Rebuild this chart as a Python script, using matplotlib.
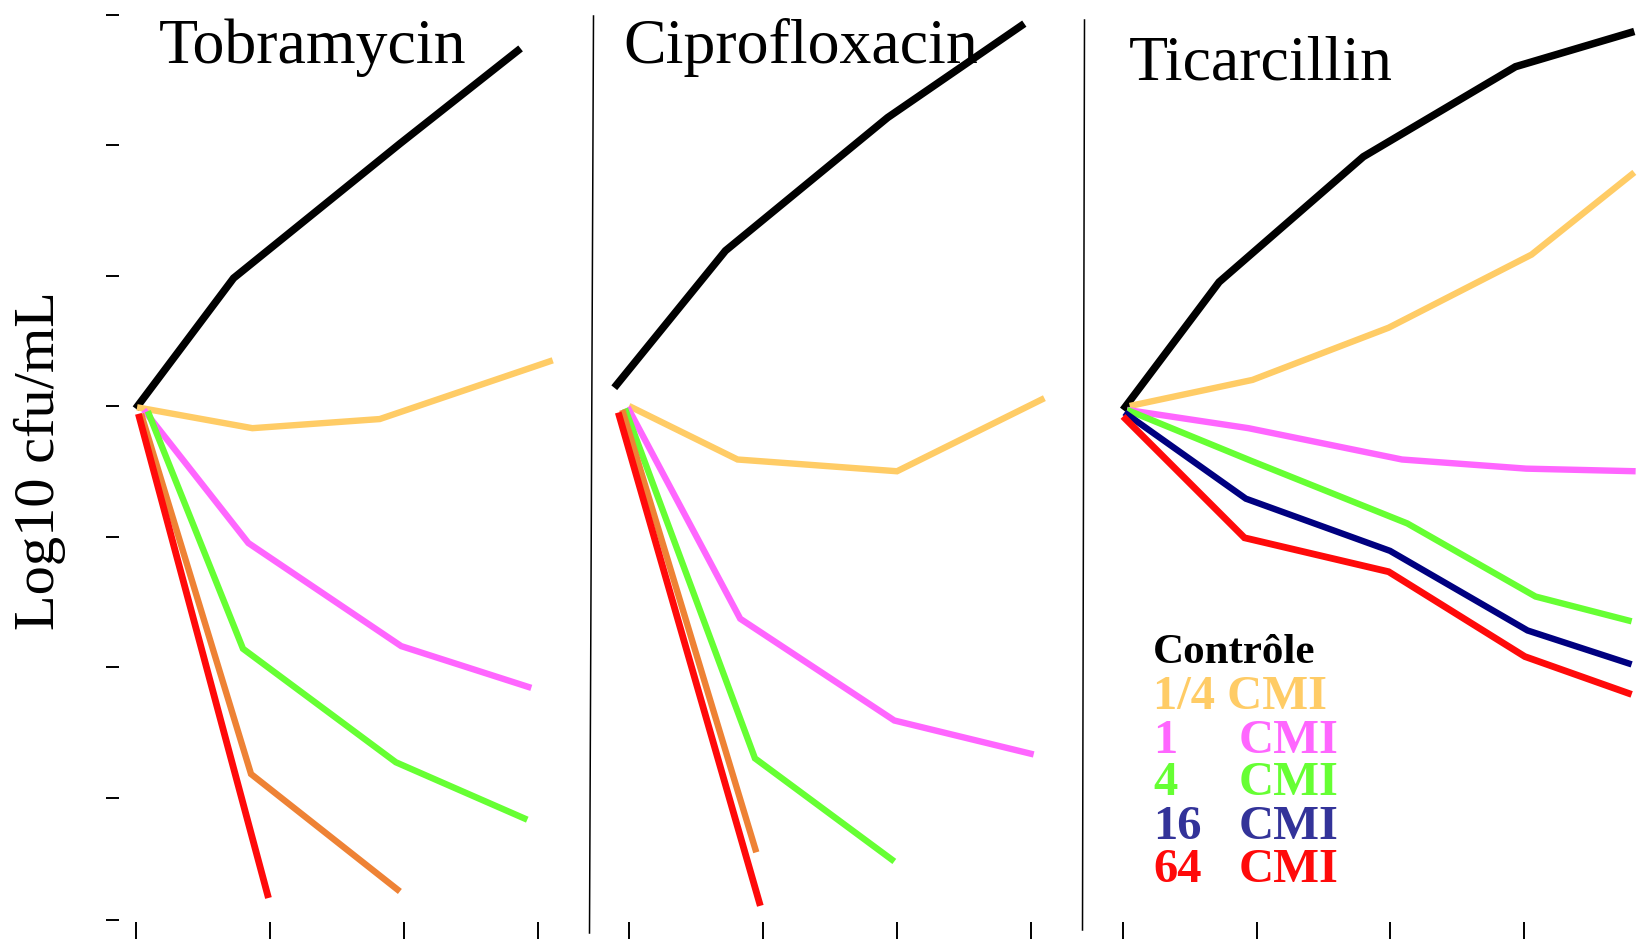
import matplotlib
matplotlib.use("Agg")
import matplotlib.pyplot as plt
from matplotlib.lines import Line2D

# ---------------- data (time index, log10 cfu/mL) ----------------
panels = ["Tobramycin", "Ciprofloxacin", "Ticarcillin"]
ylabel = "Log10 cfu/mL"
legend_left = ["Contrôle", "1/4 CMI", "1", "4", "16", "64"]
legend_right = ["", "", "CMI", "CMI", "CMI", "CMI"]
yticks = [2.06, 3, 4, 5, 6, 7, 8, 9]
xticks = [0, 1, 2, 3]

# Tobramycin
tob_ctrl_t = [0.00, 0.73, 1.97, 2.87]
tob_ctrl = [5.98, 6.98, 8.01, 8.74]
tob_q_t = [0.01, 0.87, 1.82, 3.11]
tob_q = [5.99, 5.83, 5.90, 6.35]
tob_1_t = [0.06, 0.84, 1.98, 2.95]
tob_1 = [5.97, 4.95, 4.16, 3.84]
tob_4_t = [0.09, 0.80, 1.94, 2.92]
tob_4 = [5.96, 4.14, 3.27, 2.83]
tob_16_t = [0.04, 0.86, 1.97]
tob_16 = [5.94, 3.18, 2.28]
tob_64_t = [0.02, 0.99]
tob_64 = [5.94, 2.23]

# Ciprofloxacin
cip_ctrl_t = [-0.11, 0.72, 1.93, 2.95]
cip_ctrl = [6.14, 7.19, 8.21, 8.93]
cip_q_t = [0.00, 0.81, 2.00, 3.10]
cip_q = [6.00, 5.59, 5.50, 6.06]
cip_1_t = [-0.01, 0.83, 1.98, 3.02]
cip_1 = [5.99, 4.37, 3.59, 3.33]
cip_4_t = [-0.03, 0.94, 1.98]
cip_4 = [5.98, 3.30, 2.51]
cip_16_t = [-0.05, 0.95]
cip_16 = [5.97, 2.58]
cip_64_t = [-0.08, 0.98]
cip_64 = [5.95, 2.17]

# Ticarcillin
tic_ctrl_t = [0.00, 0.72, 1.80, 2.94, 3.83]
tic_ctrl = [5.97, 6.95, 7.91, 8.60, 8.87]
tic_q_t = [0.05, 0.97, 1.99, 3.06, 3.83]
tic_q = [6.00, 6.20, 6.60, 7.16, 7.79]
tic_1_t = [0.03, 0.94, 2.09, 3.02, 3.84]
tic_1 = [5.97, 5.83, 5.59, 5.52, 5.50]
tic_4_t = [0.03, 0.96, 2.13, 3.09, 3.81]
tic_4 = [5.97, 5.58, 5.10, 4.54, 4.35]
tic_16_t = [0.01, 0.92, 2.00, 3.03, 3.81]
tic_16 = [5.95, 5.29, 4.89, 4.28, 4.02]
tic_64_t = [0.00, 0.91, 1.99, 3.01, 3.81]
tic_64 = [5.92, 4.99, 4.73, 4.08, 3.79]

# ---------------- styles ----------------
C_CTRL = "#000000"
C_Q = "#FFCC66"
C_1 = "#FF66FF"
C_4 = "#66FF33"
C_16_TOB = "#EE8235"
C_16_TIC = "#000080"
C_64 = "#FF0A0A"
LEG_COLORS = ["#000000", "#FFCC66", "#FF66FF", "#66FF33", "#333399", "#FF0A0A"]

SERIF = ["Liberation Serif", "DejaVu Serif"]
W, H = 1644, 942
DPI = 100

fig = plt.figure(figsize=(W / DPI, H / DPI), dpi=DPI)
fig.patch.set_facecolor("white")

AX_BOTTOM = 922          # pixel (from top) of the axes bottom
YLIM = (6 - (AX_BOTTOM - 406) / 130.5, 6 + 406 / 130.5)


def make_ax(left_px, right_px, tick0_px, step_px, left_ticks=False):
    ax = fig.add_axes([left_px / W, (H - AX_BOTTOM) / H,
                       (right_px - left_px) / W, AX_BOTTOM / H])
    ax.set_xlim((left_px - tick0_px) / step_px, (right_px - tick0_px) / step_px)
    ax.set_ylim(*YLIM)
    for s in ax.spines.values():
        s.set_visible(False)
    ax.patch.set_alpha(0)
    ax.set_xticks(xticks)
    ax.set_xticklabels([])
    ax.tick_params(axis="x", direction="out", length=12.5, width=1.4,
                   color="black", pad=0)
    if left_ticks:
        ax.set_yticks(yticks)
        ax.set_yticklabels([])
        ax.tick_params(axis="y", direction="out", length=9.5, width=1.4,
                       color="black")
    else:
        ax.set_yticks([])
    return ax


ax1 = make_ax(119, 592, 135.7, 134.1, left_ticks=True)
ax2 = make_ax(592, 1084, 629, 134.0)
ax3 = make_ax(1084, 1644, 1123, 133.5)

LW = 4.6
LW_BLACK = 5.4
LW_RED = 4.9


def draw(ax, t, y, color, lw=LW):
    ax.plot(t, y, color=color, lw=lw, clip_on=False,
            solid_capstyle="butt", solid_joinstyle="miter")


draw(ax1, tob_ctrl_t, tob_ctrl, C_CTRL, LW_BLACK)
draw(ax1, tob_q_t, tob_q, C_Q)
draw(ax1, tob_1_t, tob_1, C_1)
draw(ax1, tob_4_t, tob_4, C_4)
draw(ax1, tob_16_t, tob_16, C_16_TOB)
draw(ax1, tob_64_t, tob_64, C_64, LW_RED)

draw(ax2, cip_ctrl_t, cip_ctrl, C_CTRL, LW_BLACK)
draw(ax2, cip_q_t, cip_q, C_Q)
draw(ax2, cip_1_t, cip_1, C_1)
draw(ax2, cip_4_t, cip_4, C_4)
draw(ax2, cip_16_t, cip_16, C_16_TOB)
draw(ax2, cip_64_t, cip_64, C_64, LW_RED)

draw(ax3, tic_ctrl_t, tic_ctrl, C_CTRL, LW_BLACK)
draw(ax3, tic_q_t, tic_q, C_Q)
draw(ax3, tic_1_t, tic_1, C_1)
draw(ax3, tic_4_t, tic_4, C_4)
draw(ax3, tic_16_t, tic_16, C_16_TIC)
draw(ax3, tic_64_t, tic_64, C_64, LW_RED)

# separators between panels
fig.add_artist(Line2D([593.5 / W, 589.5 / W], [1 - 16 / H, 1 - 933 / H],
                      color="black", lw=1.1))
fig.add_artist(Line2D([1084.5 / W, 1082.5 / W], [1 - 20 / H, 1 - 930 / H],
                      color="black", lw=1.1))

# panel titles
title_pos = [(159, 63), (623, 63), (1129, 79)]
for name, (px, py) in zip(panels, title_pos):
    fig.text(px / W, 1 - py / H, name, family=SERIF, fontsize=46,
             ha="left", va="baseline", color="black")

# y label
fig.text(40 / W, 1 - 461 / H, ylabel, family=SERIF, fontsize=42,
         rotation=90, ha="center", va="center", color="black")

# legend text
leg_base = [663, 709, 753, 795, 839, 882]
leg_size = [31, 35, 35, 35, 35, 35]
for left, right, col, by, fs in zip(legend_left, legend_right, LEG_COLORS,
                                    leg_base, leg_size):
    fig.text(1153 / W, 1 - by / H, left, family=SERIF, fontsize=fs,
             fontweight="bold", color=col, ha="left", va="baseline")
    if right:
        fig.text(1239 / W, 1 - by / H, right, family=SERIF, fontsize=fs,
                 fontweight="bold", color=col, ha="left", va="baseline")

fig.savefig("out.png", dpi=DPI, facecolor="white")
